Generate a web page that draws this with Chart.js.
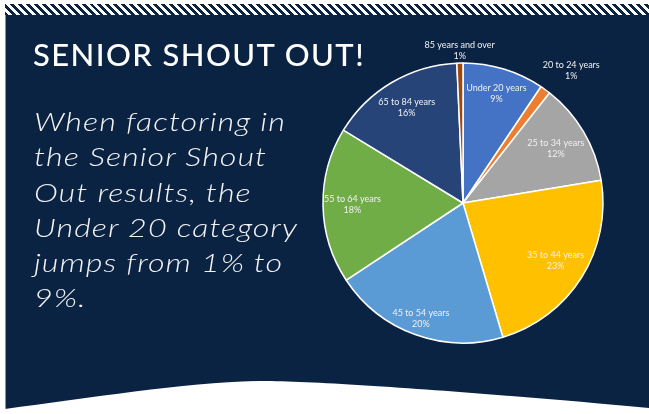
<!DOCTYPE html>
<html>
<head>
<meta charset="utf-8">
<script src="https://cdn.jsdelivr.net/npm/chart.js@4/dist/chart.umd.min.js"></script>
<style>
  html, body { margin:0; padding:0; width:649px; height:414px; overflow:hidden; background:#ffffff; }
  #stripes { position:absolute; left:5px; top:4px; width:644px; height:11px;
    background: repeating-linear-gradient(45deg, #0b2343 0px, #0b2343 2.8px, #ffffff 2.8px, #ffffff 5.6px); }
  #panel { position:absolute; left:5px; top:15px; width:644px; height:399px; background:#0b2343; border-left:1px solid #8a93a3; box-sizing:border-box; }
  #arch { position:absolute; left:0; top:0; }
  #title { position:absolute; left:33px; top:34px; color:#ffffff; font-family:"Lato", sans-serif; font-weight:500; font-size:31px; white-space:nowrap; line-height:40px; }
  #para { position:absolute; left:34px; top:104px; color:#f2f2f2; font-family:"Lato", sans-serif; font-weight:300; font-style:italic; font-size:26px; line-height:35.3px; white-space:nowrap; letter-spacing:0.8px; transform-origin:0 0; }
  #chart { position:absolute; left:0; top:0; }
</style>
</head>
<body>
<div id="stripes"></div>
<div id="panel"></div>
<svg id="arch" width="649" height="414">
  <path d="M0,414 L0,409 L5,409 C90,398 190,382 262,381 C330,381 520,396 649,408 L649,414 Z" fill="#ffffff"/>
</svg>
<canvas id="chart" width="649" height="414"></canvas>
<div id="title">SENIOR SHOUT OUT!</div>
<div id="para"><span>When factoring in</span><br><span>the Senior Shout</span><br><span>Out results, the</span><br><span id="fitline">Under 20 category</span><br><span>jumps from 1% to</span><br><span>9%.</span></div>
<script>
// ---- data ----
const categories = ["Under 20 years","20 to 24 years","25 to 34 years","35 to 44 years","45 to 54 years","55 to 64 years","65 to 84 years","85 years and over"];
const shares = [9.4, 1.2, 11.8, 23.0, 20.3, 18.0, 15.6, 0.7];
const sliceColors = ["#4472C4","#ED7D31","#A5A5A5","#FFC000","#5B9BD5","#70AD47","#264478","#9E480E"];

// label placement (style): radial factor and pixel nudges per slice
const labelPlace = [
  {r:0.82, dx:0, dy:0},
  {r:1.17, dx:12, dy:0},
  {r:0.77, dx:0, dy:0},
  {r:0.78, dx:0, dy:0},
  {r:0.88, dx:0, dy:0},
  {r:0.79, dx:0, dy:0},
  {r:0.79, dx:0, dy:0},
  {r:1.09, dx:0, dy:0}
];

const labelPlugin = {
  id: 'sliceLabels',
  afterDatasetsDraw(chart) {
    const ctx = chart.ctx;
    const meta = chart.getDatasetMeta(0);
    const data = chart.data.datasets[0].data;
    const total = data.reduce((a,b)=>a+b,0);
    ctx.save();
    ctx.font = '9px "Lato", sans-serif';
    ctx.fillStyle = '#f0f0f0';
    ctx.textAlign = 'center';
    ctx.textBaseline = 'middle';
    meta.data.forEach((arc, i) => {
      const p = arc.getProps(['x','y','startAngle','endAngle','outerRadius'], true);
      const mid = (p.startAngle + p.endAngle) / 2;
      const pl = labelPlace[i];
      const d = p.outerRadius * pl.r;
      const cx = p.x + Math.cos(mid) * d + pl.dx;
      const cy = p.y + Math.sin(mid) * d + pl.dy;
      const pct = Math.round(data[i] / total * 100) + '%';
      ctx.fillText(chart.data.labels[i], cx, cy - 5.5);
      ctx.fillText(pct, cx, cy + 5.5);
    });
    ctx.restore();
  }
};

new Chart(document.getElementById('chart'), {
  type: 'pie',
  data: {
    labels: categories,
    datasets: [{
      data: shares,
      backgroundColor: sliceColors,
      borderColor: '#ffffff',
      borderWidth: 1.5
    }]
  },
  options: {
    responsive: false,
    animation: false,
    radius: 140,
    layout: { padding: { left: 323, right: 46, top: 63, bottom: 71 } },
    plugins: { legend: { display: false }, tooltip: { enabled: false } }
  },
  plugins: [labelPlugin]
});

// fit title / paragraph widths
(function(){
  const t = document.getElementById('title');
  const w = t.getBoundingClientRect().width;
  t.style.letterSpacing = ((332 - w) / t.textContent.length) + 'px';
  const f = document.getElementById('fitline');
  const p = document.getElementById('para');
  const fw = f.getBoundingClientRect().width;
  p.style.transform = 'scaleX(' + (264 / fw) + ')';
})();
</script>
</body>
</html>
